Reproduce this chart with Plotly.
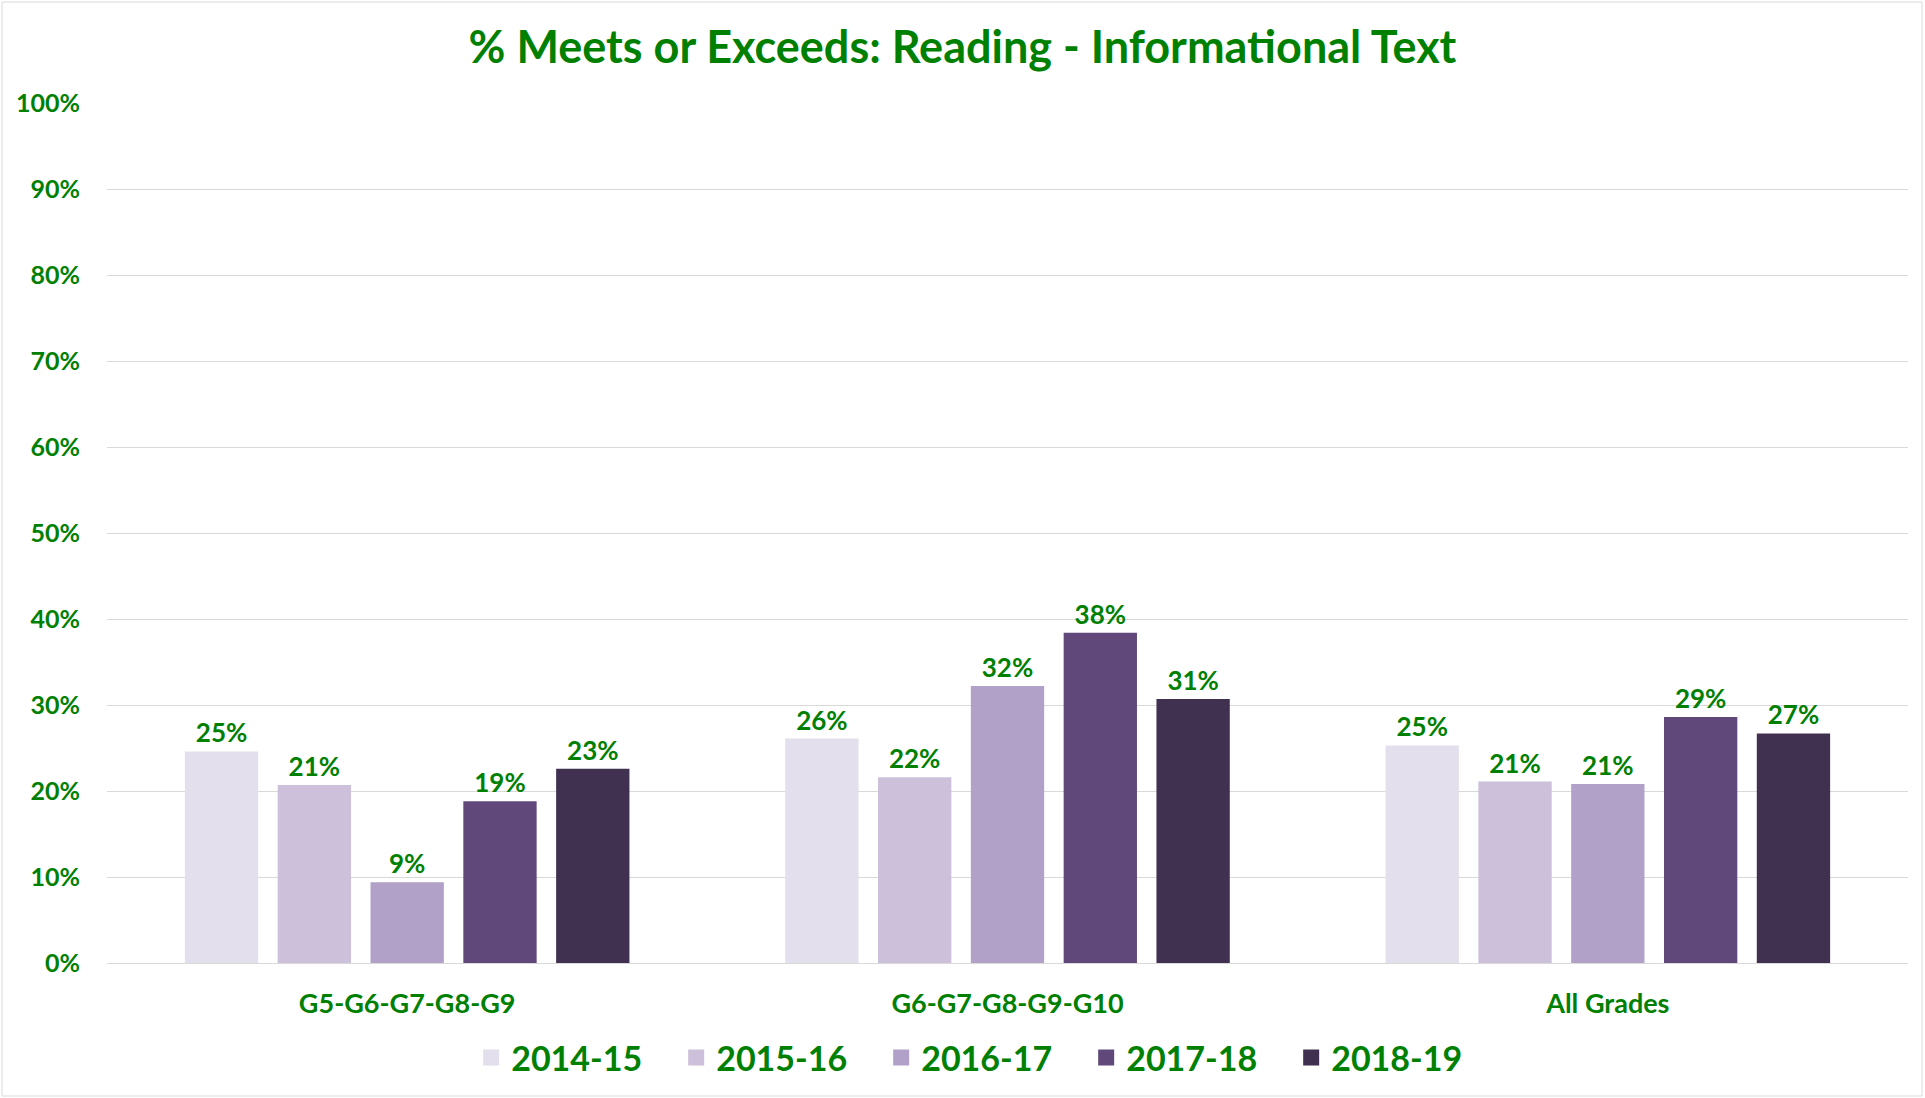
import plotly.graph_objects as go

categories = ["G5-G6-G7-G8-G9", "G6-G7-G8-G9-G10", "All Grades"]
years = ["2014-15", "2015-16", "2016-17", "2017-18", "2018-19"]
v_2014_15 = [24.6, 26.1, 25.3]
v_2015_16 = [20.7, 21.6, 21.1]
v_2016_17 = [9.4, 32.2, 20.8]
v_2017_18 = [18.8, 38.4, 28.6]
v_2018_19 = [22.6, 30.7, 26.7]
series = [v_2014_15, v_2015_16, v_2016_17, v_2017_18, v_2018_19]
colors = ["#E4DFEC", "#CCC0DA", "#B1A0C7", "#60497A", "#403151"]
y_ticks = [0, 10, 20, 30, 40, 50, 60, 70, 80, 90, 100]

GREEN = "#008000"
FONT = "Lato"

fig = go.Figure()
for name, vals, col in zip(years, series, colors):
    fig.add_trace(go.Bar(
        x=categories, y=vals, name=name, marker=dict(color=col, line=dict(width=0)),
        texttemplate="%{y:.0f}%", textposition="outside", cliponaxis=False,
        textfont=dict(family=FONT, size=26, color=GREEN, weight="bold"),
        showlegend=False, hoverinfo="skip"))
for name, col in zip(years, colors):
    fig.add_trace(go.Scatter(
        x=[None], y=[None], mode="markers", name=name,
        marker=dict(symbol="square", size=16, color=col), showlegend=True))

W, H = 1925, 1098
L, R, T, B = 107, 17, 103, 135
pw = W - L - R
ph = H - T - B

fig.update_layout(
    width=W, height=H,
    margin=dict(l=L, r=R, t=T, b=B, autoexpand=False),
    paper_bgcolor="white", plot_bgcolor="white",
    barmode="group", bargap=0.227, bargroupgap=0.21,
    title=dict(text="% Meets or Exceeds: Reading - Informational Text",
               x=0.5, xref="container", xanchor="center",
               y=1 - 47 / H, yref="container", yanchor="middle",
               font=dict(family=FONT, size=45, color=GREEN, weight="bold")),
    legend=dict(orientation="h", x=0.511, xref="container", xanchor="center",
                y=1 - 1058 / H, yref="container", yanchor="middle",
                font=dict(family=FONT, size=34, color=GREEN, weight="bold"),
                itemwidth=30, tracegroupgap=0, traceorder="normal",
                entrywidth=160, entrywidthmode="pixels"),
    xaxis=dict(showgrid=False, showline=False, zeroline=False, ticks="",
               tickfont=dict(family=FONT, size=27, color=GREEN, weight="bold"),
               ticklabelstandoff=22),
    yaxis=dict(range=[0, 100], tickvals=y_ticks,
               ticktext=[f"{v}%" for v in y_ticks],
               showgrid=True, gridcolor="#D9D9D9", gridwidth=1,
               zeroline=True, zerolinecolor="#D9D9D9", zerolinewidth=1,
               showline=False, ticks="",
               tickfont=dict(family=FONT, size=25, color=GREEN, weight="bold"),
               ticklabelstandoff=26),
    shapes=[dict(type="rect", xref="paper", yref="paper", layer="below",
                 x0=(2 - L) / pw, x1=(W - 3 - L) / pw,
                 y0=(H - B - (H - 2)) / ph, y1=(H - B - 2) / ph,
                 line=dict(color="#D9D9D9", width=1), fillcolor="rgba(0,0,0,0)")],
)

fig.write_html("out.html", config={"displayModeBar": False},
               post_script="document.body.style.margin='0';document.body.style.overflow='hidden';")
